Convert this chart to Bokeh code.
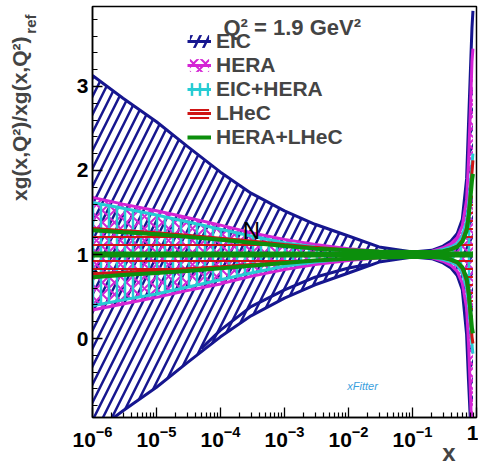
from bokeh.plotting import figure
from bokeh.models import (ColumnDataSource, Label, Legend, LegendItem, SingleIntervalTicker,
                          FixedTicker, Range1d, Title)
from bokeh.embed import file_html
from bokeh.resources import INLINE

# ---- data ----
x_vals = [1e-6, 3e-6, 1e-5, 3e-5, 1e-4, 3e-4, 1e-3, 3e-3, 1e-2, 3e-2, 0.1,
          0.2, 0.3, 0.4, 0.5, 0.6, 0.7, 0.75, 0.8, 0.85, 0.88]

eic_up = [3.13, 2.86, 2.58, 2.29, 1.98, 1.73, 1.52, 1.36, 1.22, 1.09, 1.03,
          1.05, 1.10, 1.16, 1.25, 1.42, 1.90, 2.55, 3.15, 3.70, 3.90]
eic_lo = [-1.13, -0.86, -0.58, -0.29, 0.02, 0.27, 0.48, 0.64, 0.78, 0.91, 0.97,
          0.95, 0.90, 0.84, 0.75, 0.58, 0.05, -0.50, -0.95, -1.5, -1.8]
eic_inner_x = [5e-5, 1e-4, 3e-4, 1e-3, 3e-3, 1e-2, 2e-2]
eic_inner_y = [-0.12, 0.10, 0.38, 0.58, 0.73, 0.84, 0.88]

hera_up = [1.68, 1.60, 1.52, 1.44, 1.35, 1.26, 1.18, 1.12, 1.07, 1.04, 1.03,
           1.04, 1.08, 1.13, 1.20, 1.34, 1.65, 2.10, 2.70, 3.30, 3.45]
hera_lo = [0.34, 0.41, 0.49, 0.57, 0.65, 0.74, 0.82, 0.88, 0.93, 0.96, 0.97,
           0.96, 0.92, 0.87, 0.80, 0.66, 0.36, -0.05, -0.60, -1.20, -1.40]

eichera_up = [1.62, 1.55, 1.47, 1.39, 1.30, 1.22, 1.14, 1.09, 1.05, 1.03, 1.025,
              1.03, 1.06, 1.09, 1.13, 1.22, 1.40, 1.58, 1.82, 2.08, 2.20]
eichera_lo = [0.39, 0.46, 0.53, 0.61, 0.70, 0.78, 0.86, 0.91, 0.95, 0.97, 0.975,
              0.97, 0.94, 0.91, 0.87, 0.78, 0.60, 0.42, 0.18, -0.08, -0.18]

lhec_up = [1.31, 1.285, 1.26, 1.23, 1.195, 1.16, 1.12, 1.085, 1.055, 1.035, 1.03,
           1.03, 1.04, 1.07, 1.10, 1.17, 1.32, 1.48, 1.72, 1.98, 2.12]
lhec_lo = [0.77, 0.79, 0.81, 0.83, 0.855, 0.88, 0.905, 0.93, 0.95, 0.965, 0.97,
           0.97, 0.96, 0.93, 0.90, 0.83, 0.68, 0.52, 0.28, 0.02, -0.06]

heralhec_up = [1.29, 1.265, 1.24, 1.21, 1.175, 1.14, 1.10, 1.07, 1.05, 1.035, 1.03,
               1.03, 1.04, 1.06, 1.09, 1.15, 1.28, 1.43, 1.65, 1.88, 1.96]
heralhec_lo = [0.73, 0.755, 0.78, 0.805, 0.835, 0.865, 0.90, 0.93, 0.95, 0.965, 0.97,
               0.97, 0.96, 0.94, 0.91, 0.85, 0.72, 0.57, 0.35, 0.12, 0.06]
heralhec_c = [1.0] * len(x_vals)

x_major = [1e-6, 1e-5, 1e-4, 1e-3, 1e-2, 1e-1, 1.0]
y_min, y_max = -0.94, 3.952

src = ColumnDataSource(dict(x=x_vals, eic_up=eic_up, eic_lo=eic_lo, hera_up=hera_up, hera_lo=hera_lo,
                            eh_up=eichera_up, eh_lo=eichera_lo, l_up=lhec_up, l_lo=lhec_lo,
                            hl_up=heralhec_up, hl_lo=heralhec_lo, hl_c=heralhec_c))
src_inner = ColumnDataSource(dict(x=eic_inner_x, y=eic_inner_y))

NAVY = "#16168f"
MAG = "#d424d4"
CYAN = "#26ccd4"
RED = "#cf1515"
GREEN = "#0c8f0c"
FONT = "Liberation Sans"

p = figure(width=478, height=467, x_axis_type="log",
           x_range=Range1d(1e-6, 1.0), y_range=Range1d(y_min, y_max),
           output_backend="svg", toolbar_location=None,
           min_border_left=92, min_border_right=2, min_border_top=6, min_border_bottom=50)
p.grid.visible = False
p.outline_line_color = "black"
p.outline_line_width = 1.5
p.background_fill_color = "white"
p.border_fill_color = "white"

# EIC
eic_a = p.varea(x="x", y1="eic_lo", y2="eic_up", source=src, fill_alpha=0,
                hatch_pattern="/", hatch_color=NAVY, hatch_weight=2.5, hatch_scale=18)
eic_l1 = p.line(x="x", y="eic_up", source=src, line_color=NAVY, line_width=3)
eic_l2 = p.line(x="x", y="eic_lo", source=src, line_color=NAVY, line_width=3)
p.line(x="x", y="y", source=src_inner, line_color=NAVY, line_width=3)

# HERA
hera_a = p.varea(x="x", y1="hera_lo", y2="hera_up", source=src, fill_alpha=0,
                 hatch_pattern="x", hatch_color=MAG, hatch_weight=2, hatch_scale=12)
hera_l1 = p.line(x="x", y="hera_up", source=src, line_color=MAG, line_width=3)
p.line(x="x", y="hera_lo", source=src, line_color=MAG, line_width=3)

# EIC+HERA
eh_a = p.varea(x="x", y1="eh_lo", y2="eh_up", source=src, fill_alpha=0,
               hatch_pattern="|", hatch_color=CYAN, hatch_weight=2.5, hatch_scale=8)
eh_l1 = p.line(x="x", y="eh_up", source=src, line_color=CYAN, line_width=3)
p.line(x="x", y="eh_lo", source=src, line_color=CYAN, line_width=3)

# LHeC
l_a = p.varea(x="x", y1="l_lo", y2="l_up", source=src, fill_alpha=0,
              hatch_pattern="-", hatch_color=RED, hatch_weight=2, hatch_scale=8)
l_l1 = p.line(x="x", y="l_up", source=src, line_color=RED, line_width=3)
p.line(x="x", y="l_lo", source=src, line_color=RED, line_width=3)

# HERA+LHeC
hl_l1 = p.line(x="x", y="hl_up", source=src, line_color=GREEN, line_width=4)
p.line(x="x", y="hl_lo", source=src, line_color=GREEN, line_width=4)
hl_c = p.line(x="x", y="hl_c", source=src, line_color=GREEN, line_width=6)

# axes
xa = p.xaxis[0]
ya = p.yaxis[0]
minor = [m * d for d in x_major[:-1] for m in range(2, 10)]
xa.ticker = FixedTicker(ticks=x_major, minor_ticks=minor)
xa.major_label_overrides = {1.0: "1"}
ya.ticker = SingleIntervalTicker(interval=1, num_minor_ticks=5)
for ax in (xa, ya):
    ax.major_tick_in = 10
    ax.major_tick_out = 0
    ax.minor_tick_in = 5
    ax.minor_tick_out = 0
    ax.axis_line_width = 1.5
    ax.major_tick_line_width = 1.3
    ax.minor_tick_line_width = 1.2
    ax.major_label_text_font = FONT
    ax.major_label_text_font_style = "bold"
    ax.major_label_text_font_size = "21px"
    ax.major_label_text_color = "black"
xa.major_label_standoff = 8
ya.major_label_standoff = 4
# spacer so that the axis title sits at the far left, ROOT style
ya.axis_label = " "
ya.axis_label_text_font_size = "1px"
ya.axis_label_standoff = 37

# y-axis title: main text + subscript, both aligned to the top end
p.add_layout(Title(text="ref", align="right", vertical_align="top", offset=8, standoff=-17,
                   text_font=FONT, text_font_style="bold", text_font_size="15px"), "left")
p.add_layout(Title(text="xg(x,Q²)/xg(x,Q²)", align="right", vertical_align="bottom", offset=30,
                   standoff=0, text_font=FONT, text_font_style="bold", text_font_size="21px"), "left")
# x-axis title at the right end
p.add_layout(Title(text="x", align="right", vertical_align="top", offset=21, standoff=-21,
                   text_font=FONT, text_font_style="bold", text_font_size="24px"), "below")

# header text
p.add_layout(Label(x=131, y=390, x_units="screen", y_units="screen",
                   text="Q² = 1.9 GeV²", text_align="left", text_baseline="alphabetic",
                   text_font=FONT, text_font_style="bold", text_font_size="22px"))

# stray marks in the picture
p.add_layout(Label(x=3.05e-4, y=1.29, text="N", text_align="center", text_baseline="alphabetic",
                   text_font=FONT, text_font_size="24px", text_color="black"))
p.add_layout(Label(x=0.0166, y=-0.571, text="xFitter", text_align="center", text_baseline="middle",
                   text_font=FONT, text_font_style="italic", text_font_size="11px",
                   text_color="#3aa0dd"))

legend = Legend(items=[
    LegendItem(label="EIC", renderers=[eic_a, eic_l1]),
    LegendItem(label="HERA", renderers=[hera_a, hera_l1]),
    LegendItem(label="EIC+HERA", renderers=[eh_a, eh_l1]),
    LegendItem(label="LHeC", renderers=[l_a, l_l1]),
    LegendItem(label="HERA+LHeC", renderers=[hl_l1]),
], location=(95, 268))
legend.glyph_width = 24
legend.glyph_height = 16
legend.label_standoff = 5
legend.spacing = 0
legend.padding = 0
legend.margin = 0
legend.border_line_alpha = 0
legend.background_fill_alpha = 0
legend.label_text_font = FONT
legend.label_text_font_style = "bold"
legend.label_text_font_size = "21px"
legend.label_height = 20
p.add_layout(legend)

open("out.html", "w").write(file_html(p, INLINE))
